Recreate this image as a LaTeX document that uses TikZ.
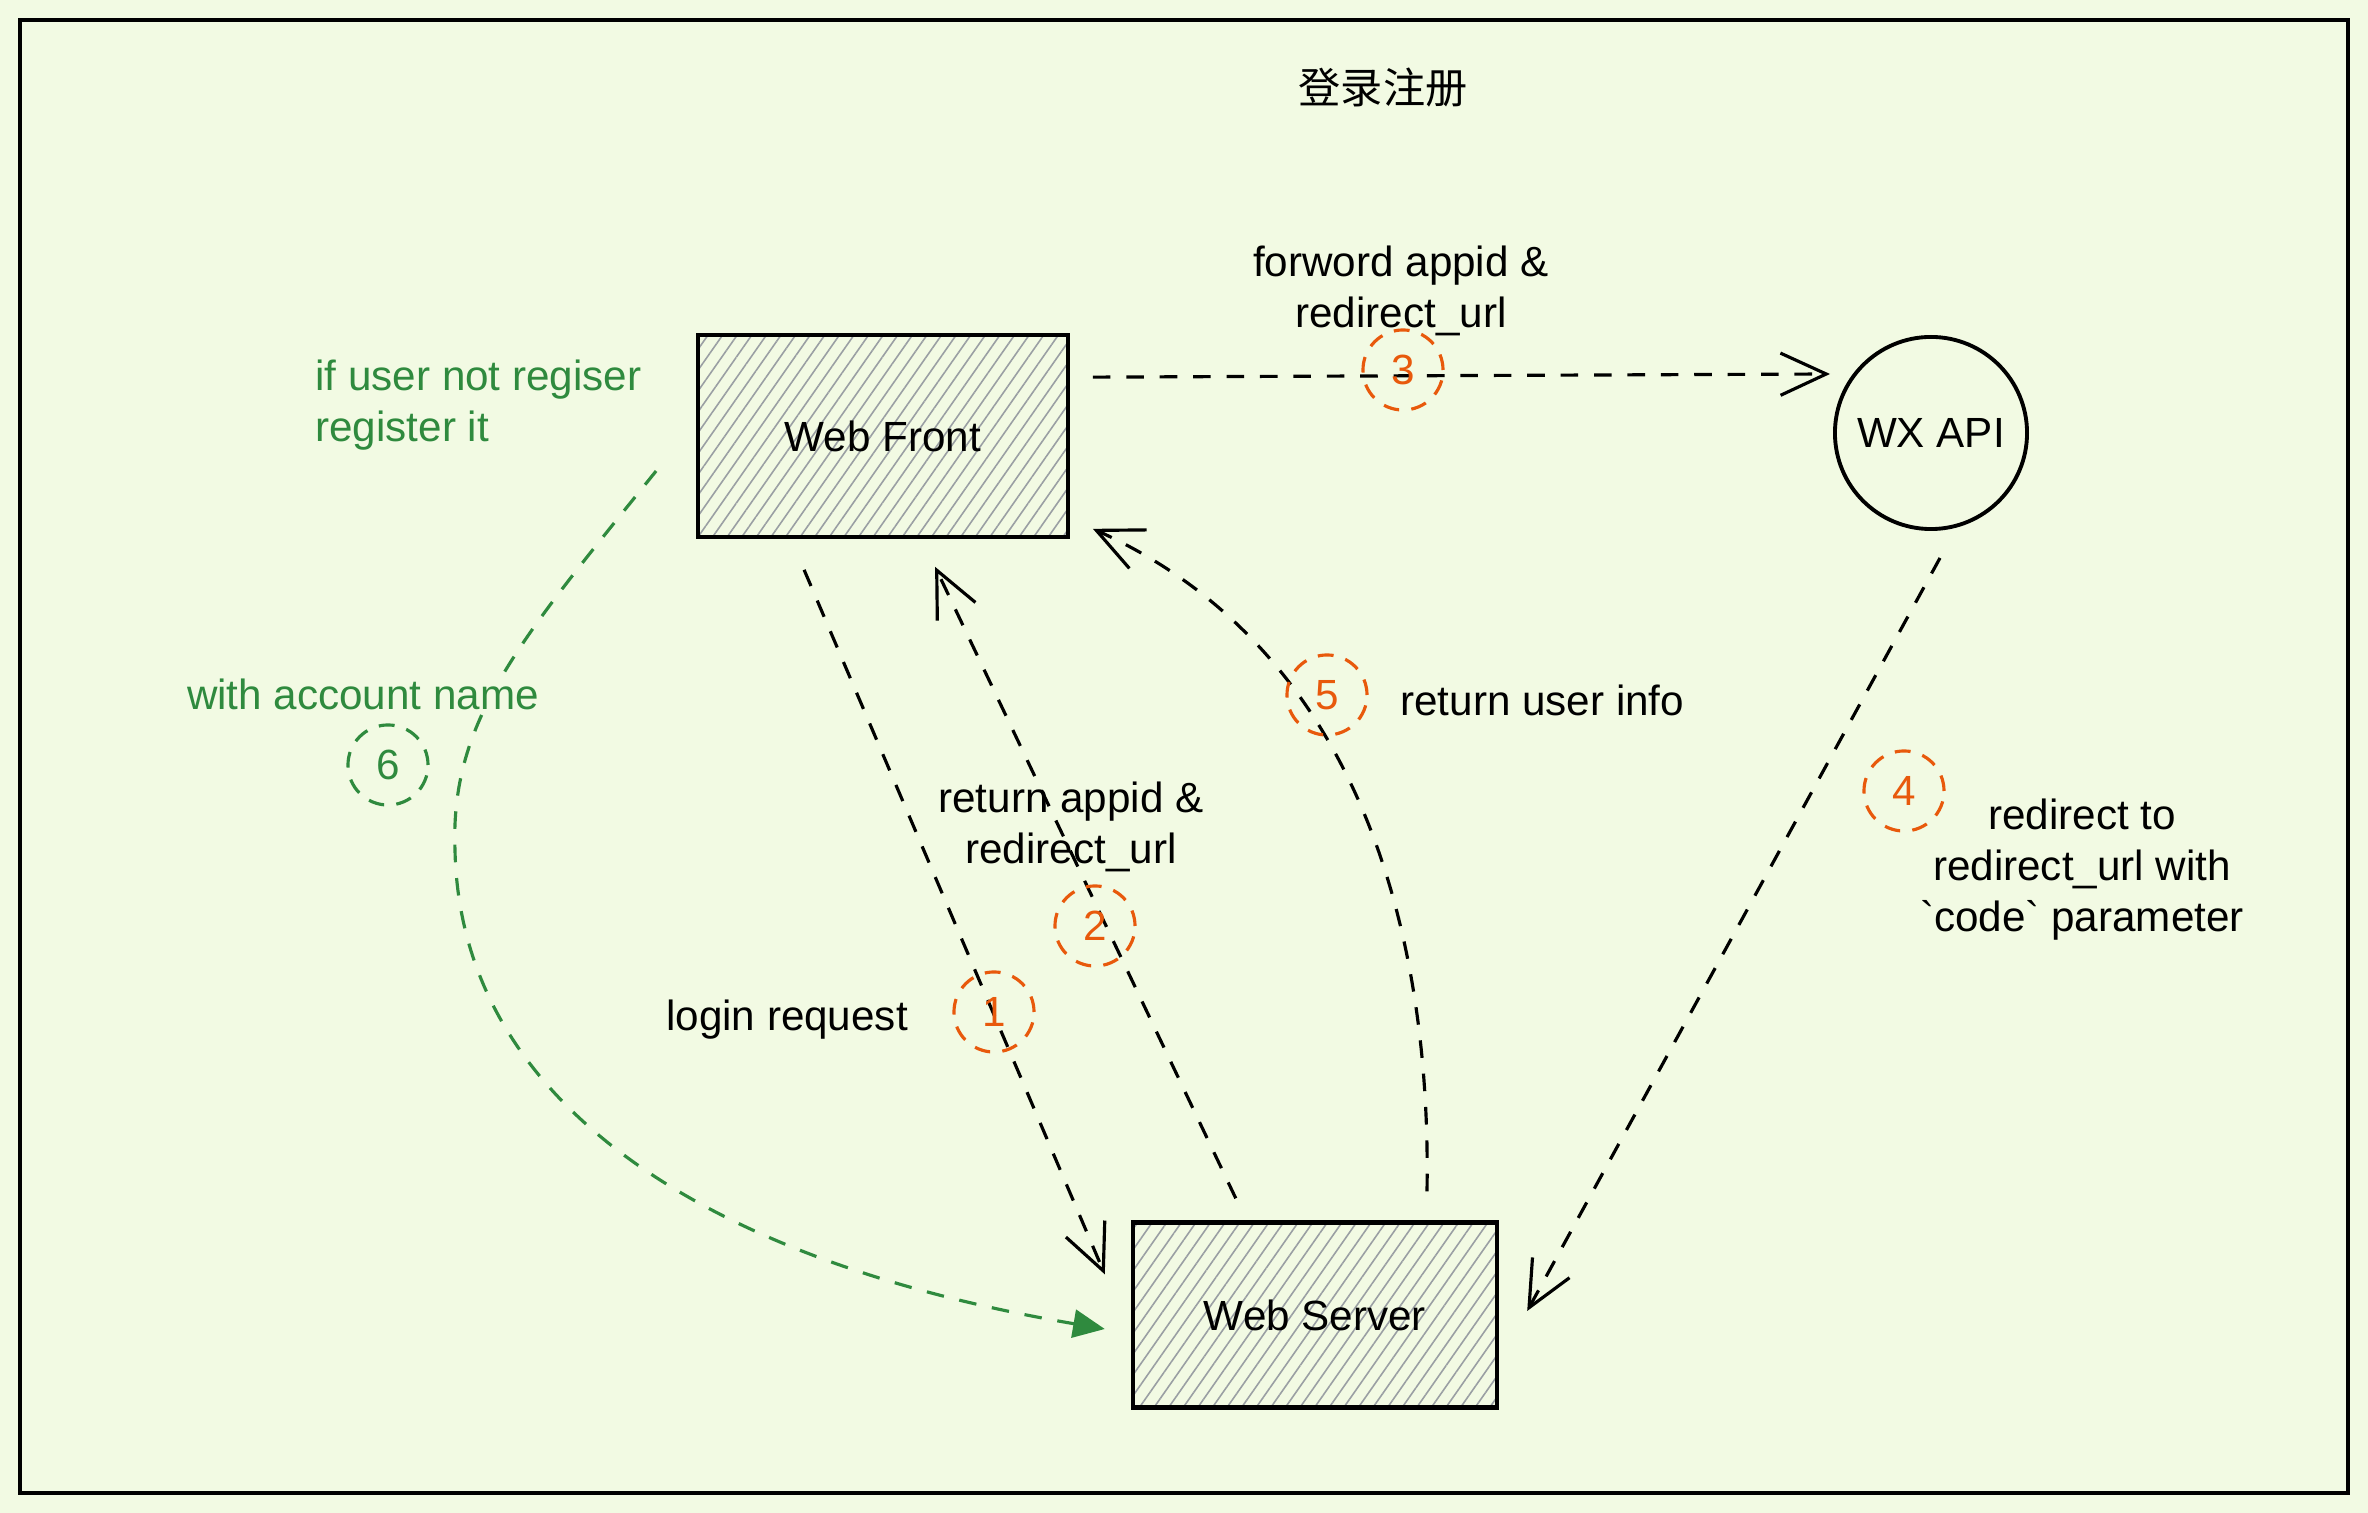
\documentclass[tikz,border=0pt]{standalone}
\usepackage{fontspec}
\setmainfont{Liberation Sans}
\newfontfamily\rawfont{Liberation Sans}[Ligatures=TeXOff]
\newfontfamily\cjk{Noto Sans CJK SC}
\usepackage{xcolor}
\usetikzlibrary{positioning,arrows.meta,patterns.meta,calc}
\definecolor{paper}{HTML}{F2FAE3}
\definecolor{hatch}{HTML}{9A9FA3}
\definecolor{stepred}{HTML}{E8590C}
\definecolor{noteg}{HTML}{2F8A3E}
\newcommand{\tick}{{\rawfont\symbol{96}}}

\begin{document}
\begin{tikzpicture}[
    x=0.01cm, y=-0.01cm,
    font=\fontsize{12}{14.5}\selectfont,
    block/.style={rectangle,draw=black,line width=1.2pt,pattern={Lines[angle=55,distance=3.4pt,line width=0.45pt]},pattern color=hatch,minimum width=3.7cm,minimum height=2.02cm},
    flow/.style={line width=0.9pt,dash pattern=on 5pt off 4.5pt,-{Straight Barb[length=13pt,width=12pt]}},
    greenflow/.style={noteg,line width=0.9pt,dash pattern=on 5pt off 4.5pt,-{Triangle[length=9pt,width=8pt]}},
    stepmark/.style={circle,draw=stepred,line width=0.9pt,dash pattern=on 4.5pt off 3.5pt,text=stepred,minimum size=0.8cm,inner sep=0pt},
    note/.style={text=noteg,align=left}
]

\fill[paper] (0,0) rectangle (2368,1513);
\useasboundingbox (0,0) rectangle (2368,1513);
\draw[line width=1.1pt] (20,20) rectangle (2348,1493);

\node (title) at (1383,88) {\cjk 登录注册};

\node[block] (front) at (883,436) {Web Front};
\node[block,minimum width=3.64cm,minimum height=1.85cm] (server) at (1315,1315) {Web Server};
\node[circle,draw=black,line width=1.1pt,minimum size=1.92cm] (wx) at (1931,433) {WX API};

% numbered steps
\draw[flow] ($(front.south west)+(107,32)$) -- ($(server.north west)+(-26,54)$);
\draw[flow] ($(server.north west)+(105,-22)$) -- ($(front.south west)+(238,29)$);
\draw[flow] ($(front.north east)+(24,43)$) -- ($(wx.center)+(-101,-59)$);
\draw[flow] ($(wx.south)+(9,27)$) -- ($(server.east)+(28,-4)$);
\draw[flow] ($(server.north)+(112,-29)$) .. controls (1432,900) and (1340,640) .. ($(front.south east)+(24,-9)$);
\draw[greenflow] ($(front.west)+(-41,35)$) .. controls (520,640) and (450,720) .. (455,850) .. controls (460,1100) and (700,1260) .. ($(server.west)+(-26,14)$);

\node[align=center] (fwdlbl) at (1401,291) {forword appid \&\\redirect\_url};
\node (loginlbl) at (787,1020) {login request};
\node[align=center] (retlbl) at (1071,827) {return appid \&\\redirect\_url};
\node[anchor=west] (infolbl) at (1388,700) {return user info};
\node[align=center] (codelbl) at (2082,870) {redirect to\\redirect\_url with\\\tick code\tick{} parameter};
\node[note,anchor=west] (reglbl) at (303,405) {if user not regiser\\register it};
\node[note,fill=paper,inner sep=1pt] (acctlbl) at (363,694) {with account name};

\node[stepmark] (s1) at (994,1012) {1};
\node[stepmark] (s2) at (1095,926) {2};
\node[stepmark] (s3) at (1403,370) {3};
\node[stepmark] (s4) at (1904,791) {4};
\node[stepmark] (s5) at (1327,695) {5};
\node[stepmark,draw=noteg,text=noteg] (s6) at (388,765) {6};

\end{tikzpicture}
\end{document}
